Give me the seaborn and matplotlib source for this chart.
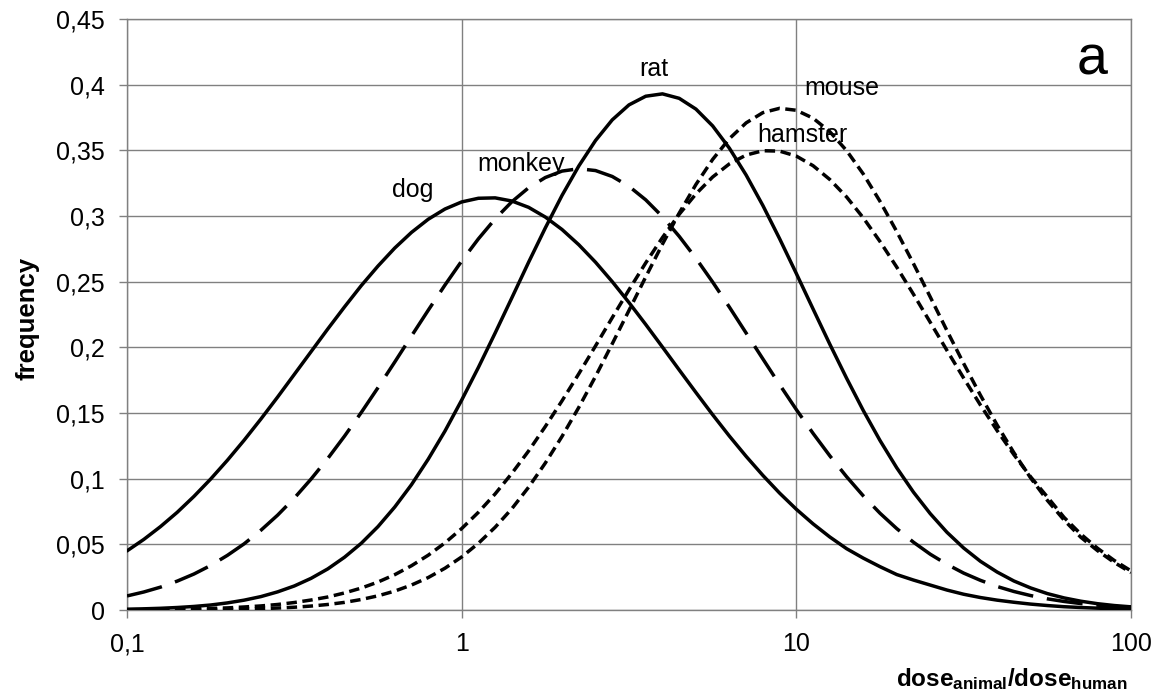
import matplotlib
matplotlib.use("Agg")
import matplotlib.pyplot as plt
import seaborn as sns
from matplotlib.ticker import FuncFormatter, NullLocator

# dose ratio grid (x) at 0.05-decade steps
dose = [0.1, 0.1122, 0.1259, 0.1413, 0.1585, 0.1778, 0.1995, 0.2239, 0.2512, 0.2818,
        0.3162, 0.3548, 0.3981, 0.4467, 0.5012, 0.5623, 0.631, 0.7079, 0.7943, 0.8913,
        1.0, 1.122, 1.259, 1.413, 1.585, 1.778, 1.995, 2.239, 2.512, 2.818,
        3.162, 3.548, 3.981, 4.467, 5.012, 5.623, 6.31, 7.079, 7.943, 8.913,
        10.0, 11.22, 12.59, 14.13, 15.85, 17.78, 19.95, 22.39, 25.12, 28.18,
        31.62, 35.48, 39.81, 44.67, 50.12, 56.23, 63.1, 70.79, 79.43, 89.13, 100.0]

dog = [0.045, 0.0537, 0.0635, 0.0744, 0.0865, 0.0997, 0.114, 0.1293, 0.1454, 0.1621,
       0.1794, 0.1967, 0.214, 0.2308, 0.247, 0.2619, 0.2756, 0.2875, 0.2975, 0.3053,
       0.3107, 0.3135, 0.3138, 0.3114, 0.3066, 0.2992, 0.2897, 0.2781, 0.2648, 0.25,
       0.2341, 0.2174, 0.2002, 0.1828, 0.1656, 0.1487, 0.1324, 0.117, 0.1025, 0.089,
       0.0767, 0.0656, 0.0556, 0.0467, 0.0395, 0.033, 0.027, 0.0228, 0.019, 0.0152,
       0.012, 0.0095, 0.0075, 0.0059, 0.0045, 0.0034, 0.0025, 0.0019, 0.0014, 0.001, 0.0008]
monkey = [0.0107, 0.0137, 0.0174, 0.022, 0.0274, 0.0339, 0.0416, 0.0504, 0.0607, 0.0722,
          0.0852, 0.0997, 0.1154, 0.1324, 0.1504, 0.1693, 0.1888, 0.2086, 0.2282, 0.2474,
          0.2657, 0.2826, 0.2978, 0.3109, 0.3215, 0.3293, 0.3342, 0.336, 0.3346, 0.3301,
          0.3226, 0.3123, 0.2995, 0.2845, 0.2678, 0.2497, 0.2306, 0.2109, 0.1912, 0.1716,
          0.1526, 0.1345, 0.1174, 0.1015, 0.0869, 0.0737, 0.062, 0.0516, 0.0425, 0.0348,
          0.0281, 0.0226, 0.0179, 0.0141, 0.011, 0.0085, 0.0065, 0.0049, 0.0037, 0.0027, 0.002]
rat = [0.0006, 0.0009, 0.0013, 0.0019, 0.0027, 0.0038, 0.0054, 0.0075, 0.0102, 0.0138,
       0.0183, 0.0241, 0.0313, 0.0402, 0.0508, 0.0635, 0.0784, 0.0954, 0.1148, 0.1362,
       0.1598, 0.1847, 0.2109, 0.2378, 0.2648, 0.2909, 0.3157, 0.3381, 0.3575, 0.3732,
       0.3846, 0.3912, 0.393, 0.3896, 0.3814, 0.3686, 0.3516, 0.3312, 0.308, 0.2827,
       0.2562, 0.2292, 0.2024, 0.1765, 0.1519, 0.1291, 0.1083, 0.0897, 0.0734, 0.0592,
       0.0472, 0.0371, 0.0289, 0.0221, 0.0168, 0.0125, 0.0092, 0.0067, 0.0048, 0.0034, 0.0024]
mouse = [0.0, 0.0001, 0.0001, 0.0001, 0.0002, 0.0003, 0.0005, 0.0007, 0.001, 0.0015,
         0.0021, 0.003, 0.0042, 0.0058, 0.008, 0.0108, 0.0144, 0.019, 0.0247, 0.0318,
         0.0404, 0.0508, 0.063, 0.0772, 0.0935, 0.1119, 0.1322, 0.1543, 0.1779, 0.2027,
         0.2281, 0.2536, 0.2786, 0.3022, 0.324, 0.3431, 0.3589, 0.3709, 0.3787, 0.382,
         0.3805, 0.3745, 0.3642, 0.3498, 0.332, 0.3112, 0.2882, 0.2637, 0.2384, 0.2128,
         0.1877, 0.1636, 0.1408, 0.1198, 0.1006, 0.0835, 0.0685, 0.0554, 0.0452, 0.0362, 0.0285]
hamster = [0.0002, 0.0003, 0.0004, 0.0006, 0.0008, 0.0012, 0.0016, 0.0023, 0.0031, 0.0042,
           0.0057, 0.0076, 0.0099, 0.013, 0.0167, 0.0213, 0.0269, 0.0337, 0.0417, 0.0511,
           0.062, 0.0744, 0.0884, 0.1041, 0.1211, 0.1397, 0.1593, 0.1799, 0.2011, 0.2226,
           0.2438, 0.2643, 0.2836, 0.3013, 0.3168, 0.3297, 0.3397, 0.3464, 0.3497, 0.3494,
           0.3456, 0.3383, 0.3278, 0.3145, 0.2986, 0.2806, 0.2611, 0.2404, 0.2191, 0.1977,
           0.1766, 0.1561, 0.1366, 0.1183, 0.1014, 0.0861, 0.0705, 0.0578, 0.047, 0.0377, 0.0298]

# where the species names sit (dose, frequency)
labels = {"dog": (0.715, 0.3145), "monkey": (1.50, 0.3343), "rat": (3.74, 0.4066),
          "mouse": (13.7, 0.392), "hamster": (10.46, 0.3564)}

sns.set_theme(style="white")
plt.rcParams["font.family"] = ["Liberation Sans", "DejaVu Sans"]
plt.rcParams["text.color"] = "black"
plt.rcParams["axes.labelcolor"] = "black"
plt.rcParams["lines.scale_dashes"] = False
plt.rcParams["mathtext.fontset"] = "custom"
plt.rcParams["mathtext.rm"] = "Liberation Sans"
plt.rcParams["mathtext.bf"] = "Liberation Sans:bold"

fig = plt.figure(figsize=(11.55, 6.96), dpi=100)
ax = fig.add_axes([127 / 1155, 1 - 610 / 696, (1131 - 127) / 1155, (610 - 19) / 696])

styles = {
    "dog": "-",
    "monkey": (0, (26, 10)),
    "rat": "-",
    "mouse": (0, (7.5, 4)),
    "hamster": (0, (7.5, 4)),
}
series = {"dog": dog, "monkey": monkey, "rat": rat, "mouse": mouse, "hamster": hamster}
for name, vals in series.items():
    sns.lineplot(x=dose, y=vals, ax=ax, color="black", linewidth=2.5,
                 linestyle=styles[name], zorder=3)

ax.set_xscale("log")
ax.set_xlim(0.1, 100)
ax.set_ylim(0, 0.45)
ax.set_xticks([0.1, 1, 10, 100])
ax.xaxis.set_minor_locator(NullLocator())
ax.set_yticks([0, 0.05, 0.1, 0.15, 0.2, 0.25, 0.3, 0.35, 0.4, 0.45])
comma = FuncFormatter(lambda v, p: f"{v:g}".replace(".", ","))
ax.xaxis.set_major_formatter(comma)
ax.yaxis.set_major_formatter(comma)

ax.grid(True, which="major", color="#808080", linewidth=1)
ax.set_axisbelow(True)
for s in ax.spines.values():
    s.set_color("#808080")
    s.set_linewidth(1)
ax.tick_params(axis="both", which="major", direction="out", length=6, width=1,
               color="#808080", labelsize=18, labelcolor="black", pad=10,
               bottom=True, left=True)

for name, (xx, yy) in labels.items():
    ax.text(xx, yy, name, fontsize=18, ha="center", va="baseline", zorder=4)
ax.text(76.4, 0.4074, "a", fontsize=40, ha="center", va="baseline")

ax.set_ylabel("frequency", fontsize=18.5, fontweight="bold")
ax.yaxis.set_label_coords(-0.0876, 0.494)
xl = ax.set_xlabel(r"$\mathbf{dose_{animal}/dose_{human}}$", fontsize=17.5, loc="right")
ax.xaxis.set_label_coords(0.9965, -0.1286)
xl.set_verticalalignment("baseline")

fig.savefig("out.png", dpi=100)
